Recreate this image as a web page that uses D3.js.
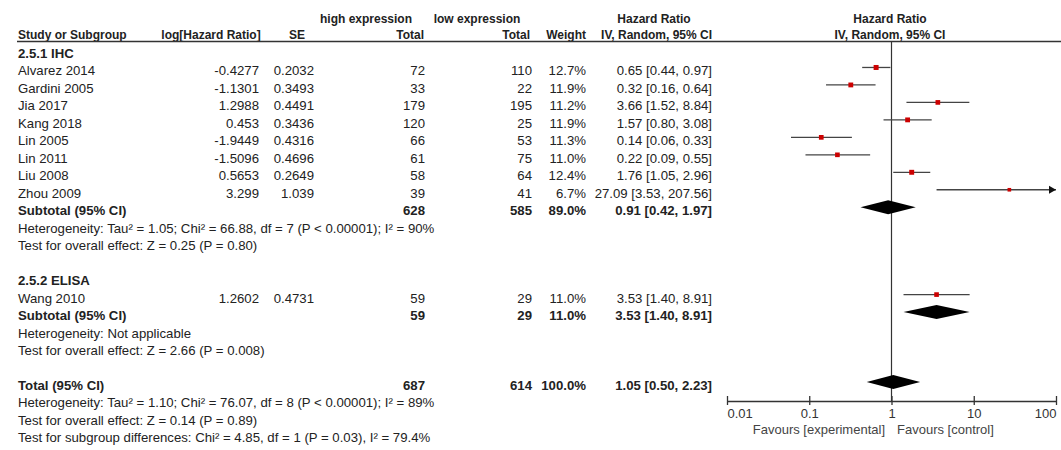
<!DOCTYPE html>
<html><head><meta charset="utf-8">
<script src="https://cdn.jsdelivr.net/npm/d3@7/dist/d3.min.js"></script>
<style>
body{margin:0;background:#fff;}
svg text{font-family:"Liberation Sans",Arial,sans-serif;fill:#222;}
</style></head>
<body><svg id="c" width="1061" height="450"></svg>
<script>
// ---- data ----
const studiesIHC = ["Alvarez 2014","Gardini 2005","Jia 2017","Kang 2018","Lin 2005","Lin 2011","Liu 2008","Zhou 2009"];
const logHRIHC = ["-0.4277","-1.1301","1.2988","0.453","-1.9449","-1.5096","0.5653","3.299"];
const seIHC = ["0.2032","0.3493","0.4491","0.3436","0.4316","0.4696","0.2649","1.039"];
const highIHC = [72,33,179,120,66,61,58,39];
const lowIHC = [110,22,195,25,53,75,64,41];
const weightIHC = [12.7,11.9,11.2,11.9,11.3,11.0,12.4,6.7];
const hrIHC = [0.65,0.32,3.66,1.57,0.14,0.22,1.76,27.09];
const loIHC = [0.44,0.16,1.52,0.80,0.06,0.09,1.05,3.53];
const hiIHC = [0.97,0.64,8.84,3.08,0.33,0.55,2.96,207.56];

const studiesELISA = ["Wang 2010"];
const logHRELISA = ["1.2602"];
const seELISA = ["0.4731"];
const highELISA = [59];
const lowELISA = [29];
const weightELISA = [11.0];
const hrELISA = [3.53];
const loELISA = [1.40];
const hiELISA = [8.91];

// subtotal / total: [high, low, weight, hr, lo, hi]
const subtotalIHC = [628,585,89.0,0.91,0.42,1.97];
const subtotalELISA = [59,29,11.0,3.53,1.40,8.91];
const totalAll = [687,614,100.0,1.05,0.50,2.23];

const hetIHC = "Heterogeneity: Tau² = 1.05; Chi² = 66.88, df = 7 (P < 0.00001); I² = 90%";
const testIHC = "Test for overall effect: Z = 0.25 (P = 0.80)";
const hetELISA = "Heterogeneity: Not applicable";
const testELISA = "Test for overall effect: Z = 2.66 (P = 0.008)";
const hetTotal = "Heterogeneity: Tau² = 1.10; Chi² = 76.07, df = 8 (P < 0.00001); I² = 89%";
const testTotal = "Test for overall effect: Z = 0.14 (P = 0.89)";
const testSub = "Test for subgroup differences: Chi² = 4.85, df = 1 (P = 0.03), I² = 79.4%";

const axisTicks = [0.01,0.1,1,10,100];
const axisTickLabels = ["0.01","0.1","1","10","100"];

// ---- layout ----
const svg = d3.select("#c");
const x = d3.scaleLog().domain([0.01,100]).range([727,1056]);
const rowY = i => 53.5 + 17.47*i;
const col = {name:18, lhr:259, se:314, high:425, low:532, w:586, ci:712};
const f2 = v => v.toFixed(2);
const ciText = (h,l,u) => `${f2(h)} [${f2(l)}, ${f2(u)}]`;

function txt(xp, y, s, anchor, bold, size){
  svg.append("text").attr("x",xp).attr("y",y+4.5)
    .attr("text-anchor",anchor||"start")
    .attr("font-size",(size||13.2)+"px")
    .attr("font-weight",bold?"bold":"normal")
    .text(s);
}

// header
txt(366,18,"high expression","middle",true,12);
txt(477,18,"low expression","middle",true,12);
txt(654,18,"Hazard Ratio","middle",true,12);
txt(890,18,"Hazard Ratio","middle",true,12);
txt(18,34,"Study or Subgroup","start",true,12);
txt(211,34,"log[Hazard Ratio]","middle",true,12);
txt(305,34,"SE","end",true,12);
txt(424,34,"Total","end",true,12);
txt(530,34,"Total","end",true,12);
txt(586,34,"Weight","end",true,12);
txt(712,34,"IV, Random, 95% CI","end",true,12);
txt(890,34,"IV, Random, 95% CI","middle",true,12);
svg.append("line").attr("x1",17).attr("x2",1061).attr("y1",41.5).attr("y2",41.5)
  .attr("stroke","#333").attr("stroke-width",1.3);

// null line
svg.append("line").attr("x1",x(1)).attr("x2",x(1)).attr("y1",41.5).attr("y2",401)
  .attr("stroke","#333").attr("stroke-width",1.2);

function studyRows(startRow, names, lhr, se, hi_, lo_, w, hr, lo, hi){
  names.forEach((n,k)=>{
    const r = startRow+k, y = rowY(r);
    txt(col.name,y,n);
    txt(col.lhr,y,lhr[k],"end");
    txt(col.se,y,se[k],"end");
    txt(col.high,y,hi_[k],"end");
    txt(col.low,y,lo_[k],"end");
    txt(col.w,y,w[k].toFixed(1)+"%","end");
    txt(col.ci,y,ciText(hr[k],lo[k],hi[k]),"end");
    const my = y-3.5;
    const [d0,d1] = x.domain();
    const cl = Math.max(lo[k],d0), cu = Math.min(hi[k],d1);
    svg.append("line").attr("x1",x(cl)).attr("x2",x(cu)).attr("y1",my).attr("y2",my)
      .attr("stroke","#444").attr("stroke-width",1.3);
    if(hi[k]>d1){
      const ax = x(d1);
      svg.append("path").attr("d",`M${ax},${my} L${ax-7},${my-4} L${ax-7},${my+4} Z`).attr("fill","#111");
    }
    const s = 1.4*Math.sqrt(w[k]);
    svg.append("rect").attr("x",x(hr[k])-s/2).attr("y",my-s/2).attr("width",s).attr("height",s)
      .attr("fill","#cc0000");
  });
}
function summaryRow(r, label, d){
  const y = rowY(r);
  txt(col.name,y,label,"start",true);
  txt(col.high,y,d[0],"end",true);
  txt(col.low,y,d[1],"end",true);
  txt(col.w,y,d[2].toFixed(1)+"%","end",true);
  txt(col.ci,y,ciText(d[3],d[4],d[5]),"end",true);
  const my = y-3.5;
  svg.append("path").attr("d",`M${x(d[4])},${my} L${x(d[3])},${my-7} L${x(d[5])},${my} L${x(d[3])},${my+7} Z`)
    .attr("fill","#000");
}

txt(col.name,rowY(0),"2.5.1 IHC","start",true);
studyRows(1,studiesIHC,logHRIHC,seIHC,highIHC,lowIHC,weightIHC,hrIHC,loIHC,hiIHC);
summaryRow(9,"Subtotal (95% CI)",subtotalIHC);
txt(col.name,rowY(10),hetIHC);
txt(col.name,rowY(11),testIHC);
txt(col.name,rowY(13),"2.5.2 ELISA","start",true);
studyRows(14,studiesELISA,logHRELISA,seELISA,highELISA,lowELISA,weightELISA,hrELISA,loELISA,hiELISA);
summaryRow(15,"Subtotal (95% CI)",subtotalELISA);
txt(col.name,rowY(16),hetELISA);
txt(col.name,rowY(17),testELISA);
summaryRow(19,"Total (95% CI)",totalAll);
txt(col.name,rowY(20),hetTotal);
txt(col.name,rowY(21),testTotal);
txt(col.name,rowY(22),testSub);

// axis
const ax = svg.append("g").attr("transform","translate(0,401)")
  .call(d3.axisBottom(x).tickValues(axisTicks).tickSize(4).tickSizeOuter(0)
    .tickFormat((d,i)=>axisTickLabels[i]));
ax.select(".domain").attr("stroke","#333").attr("stroke-width",1.3);
ax.selectAll(".tick line").attr("y1",-5).attr("stroke","#333").attr("stroke-width",1.3);
const nT = axisTicks.length;
ax.selectAll(".tick text").attr("y",17).attr("dy",0).attr("font-size","13px")
  .attr("font-family","Liberation Sans, Arial, sans-serif").style("fill","#333")
  .attr("text-anchor",(d,i)=> i===0 ? "start" : (i===nT-1 ? "end" : "middle"));
svg.append("text").attr("x",885).attr("y",433.5).attr("text-anchor","end").attr("font-size","13px")
  .style("fill","#444").text("Favours [experimental]");
svg.append("text").attr("x",897).attr("y",433.5).attr("text-anchor","start").attr("font-size","13px")
  .style("fill","#444").text("Favours [control]");
</script></body></html>
